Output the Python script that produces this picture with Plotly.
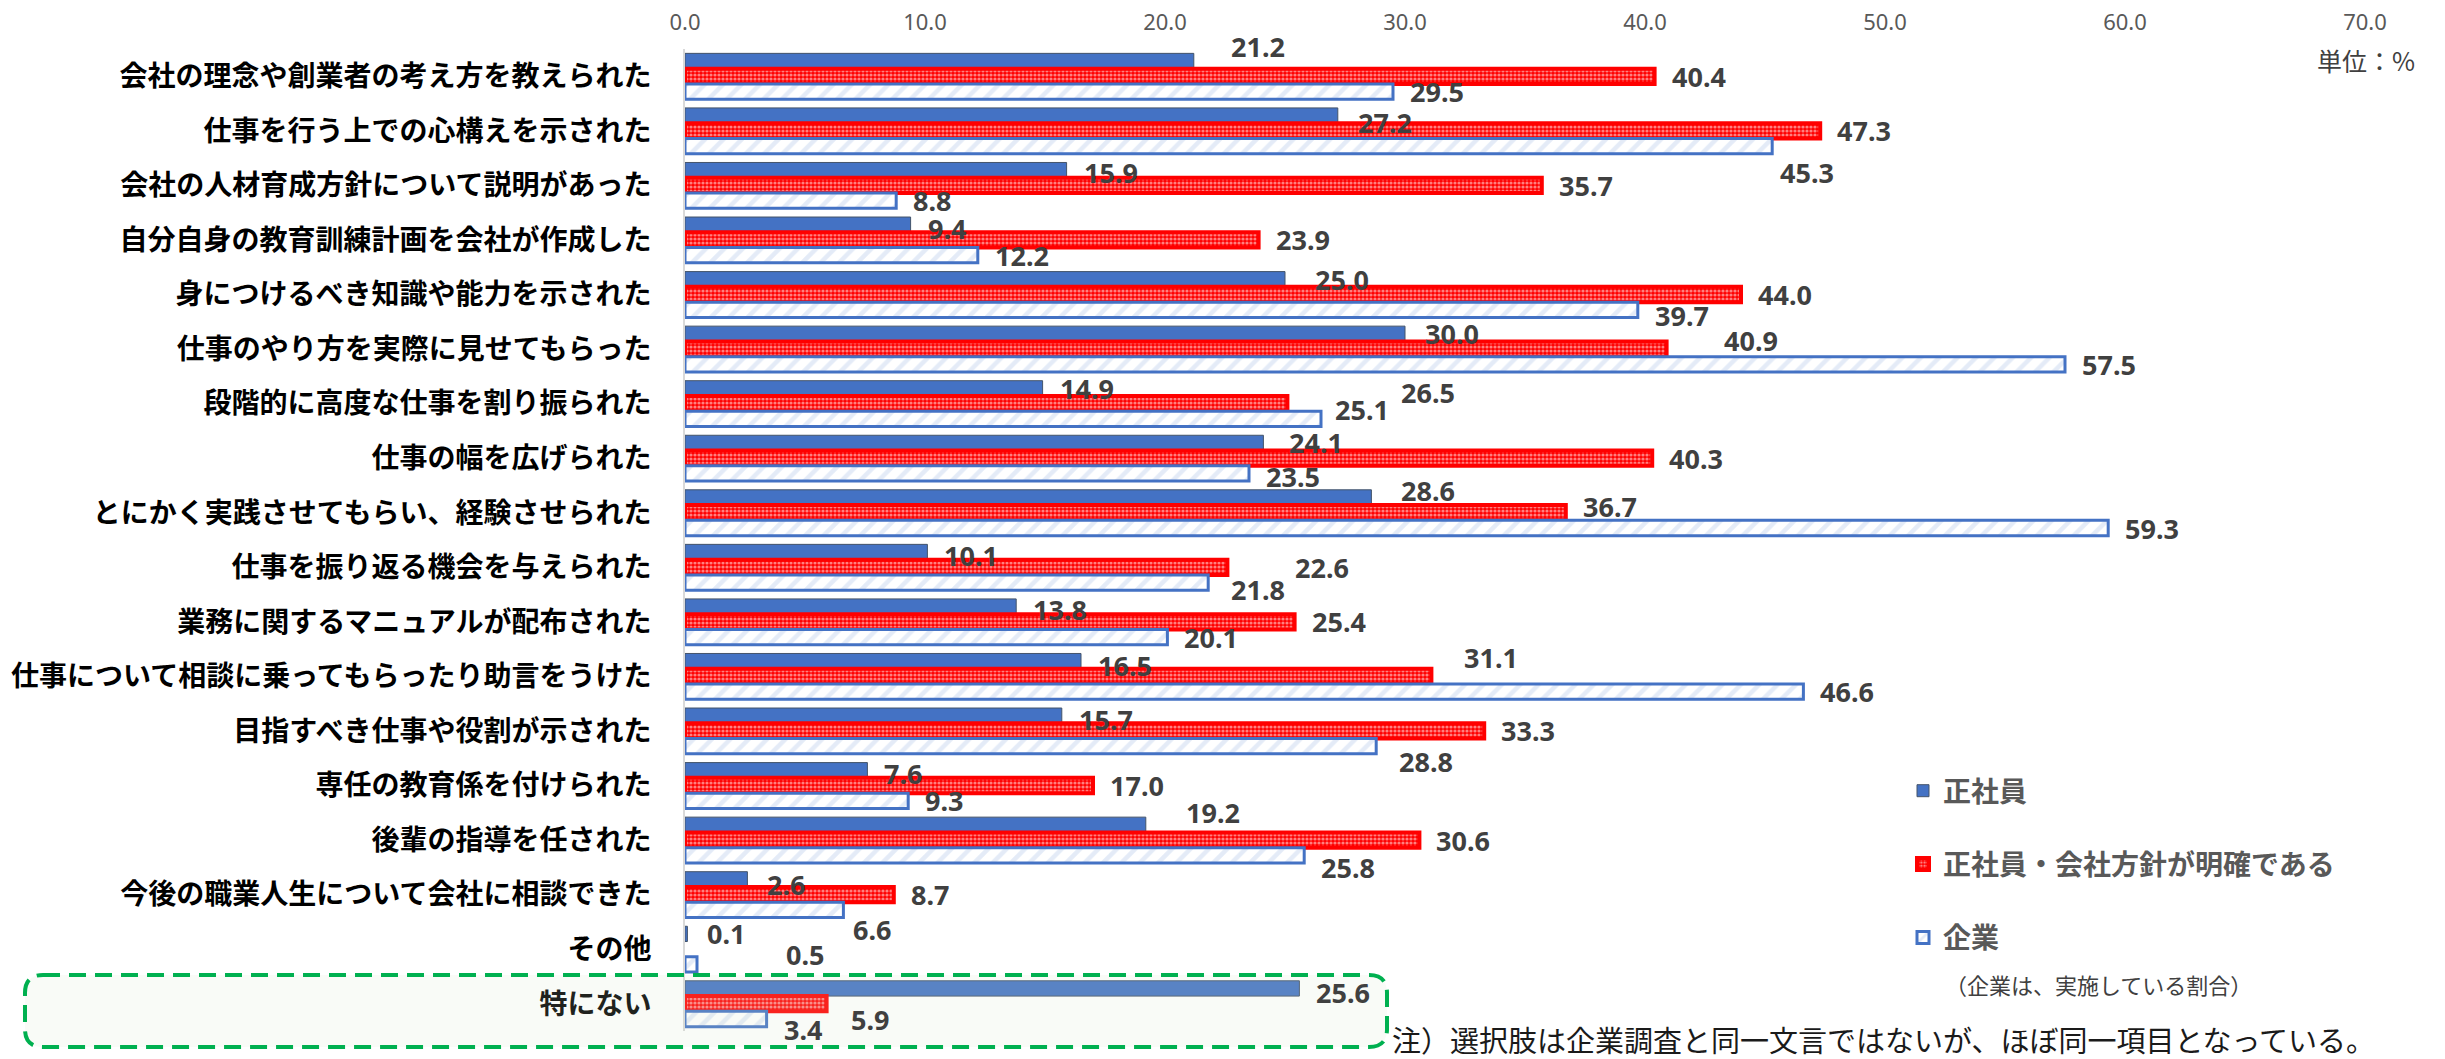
import plotly.graph_objects as go

# Survey items (top to bottom)
categories = [
    "会社の理念や創業者の考え方を教えられた",
    "仕事を行う上での心構えを示された",
    "会社の人材育成方針について説明があった",
    "自分自身の教育訓練計画を会社が作成した",
    "身につけるべき知識や能力を示された",
    "仕事のやり方を実際に見せてもらった",
    "段階的に高度な仕事を割り振られた",
    "仕事の幅を広げられた",
    "とにかく実践させてもらい、経験させられた",
    "仕事を振り返る機会を与えられた",
    "業務に関するマニュアルが配布された",
    "仕事について相談に乗ってもらったり助言をうけた",
    "目指すべき仕事や役割が示された",
    "専任の教育係を付けられた",
    "後輩の指導を任された",
    "今後の職業人生について会社に相談できた",
    "その他",
    "特にない",
]

series_names = ["正社員", "正社員・会社方針が明確である", "企業"]

seishain = [21.2, 27.2, 15.9, 9.4, 25.0, 30.0, 14.9, 24.1, 28.6, 10.1,
            13.8, 16.5, 15.7, 7.6, 19.2, 2.6, 0.1, 25.6]
seishain_houshin = [40.4, 47.3, 35.7, 23.9, 44.0, 40.9, 25.1, 40.3, 36.7, 22.6,
                    25.4, 31.1, 33.3, 17.0, 30.6, 8.7, None, 5.9]
kigyou = [29.5, 45.3, 8.8, 12.2, 39.7, 57.5, 26.5, 23.5, 59.3, 21.8,
          20.1, 46.6, 28.8, 9.3, 25.8, 6.6, 0.5, 3.4]

x_ticks = [0, 10, 20, 30, 40, 50, 60, 70]

# Pixel nudges for individual value labels (right, down)
nudge_blue = [(20, -15), (3, 7), (0, 2), (0, 4), (13, 0), (3, 0), (0, 0), (9, 0), (13, -7),
              (0, 3), (0, 3), (0, 4), (0, 4), (0, 3), (23, -12), (3, 5), (3, 0), (0, 4)]
nudge_red = [(0, 0), (0, 0), (0, 0), (0, 0), (0, 0), (40, -9), (31, 6), (0, 0), (0, -6),
             (51, 0), (0, 0), (16, -19), (0, 0), (0, 0), (0, 0), (0, 0), (0, 0), (7, 16)]
nudge_stripe = [(0, 0), (-9, 26), (0, 0), (0, 0), (0, 6), (0, 0), (63, -26), (0, 3), (0, 0),
                (6, 7), (0, 0), (0, 0), (6, 15), (0, 0), (0, 12), (-7, 20), (72, -10), (0, 10)]

W, H = 2445, 1059
ML, MR, MT, MB = 685, 80, 49, 28
BARGAP = 0.16


def px_x(p):
    return (p - ML) / (W - ML - MR)


def px_y(p):
    return 1 - (p - MT) / (H - MT - MB)


idx = list(range(len(categories)))

fig = go.Figure()
fig.add_trace(go.Bar(
    y=idx, x=seishain, orientation="h", name=series_names[0],
    marker=dict(color="#4472c4", line=dict(color="#44546a", width=1)),
    legendgroup="a",
))
fig.add_trace(go.Bar(
    y=idx, x=seishain_houshin, orientation="h", name=series_names[1],
    marker=dict(color="#ff0000", line=dict(color="#ff0000", width=4),
                pattern=dict(shape=".", fillmode="overlay", bgcolor="#ff0000",
                             fgcolor="#ffffff", size=4, solidity=0.5)),
    legendgroup="b",
))
fig.add_trace(go.Bar(
    y=idx, x=kigyou, orientation="h", name=series_names[2],
    marker=dict(color="#ffffff", line=dict(color="#4472c4", width=3),
                pattern=dict(shape="/", fillmode="overlay", bgcolor="#ffffff",
                             fgcolor="#c9d8f0", size=13, solidity=0.35)),
    legendgroup="c",
))

# Value labels
w = (1 - BARGAP) / 3
annotations = []
for k, (vals, nudges) in enumerate([(seishain, nudge_blue),
                                     (seishain_houshin, nudge_red),
                                     (kigyou, nudge_stripe)]):
    for i, v in enumerate(vals):
        if v is None:
            continue
        dx, dy = nudges[i]
        annotations.append(dict(
            x=v, y=i + (k - 1) * w, xref="x", yref="y",
            text=f"{v:.1f}", showarrow=False, xanchor="left", yanchor="middle",
            xshift=15 + dx, yshift=-dy,
            font=dict(family="Noto Sans, Roboto, sans-serif", size=27,
                      color="#404040", weight="bold"),
        ))

annotations.append(dict(
    x=px_x(2366), y=px_y(60), xref="paper", yref="paper", text="単位：%",
    showarrow=False, xanchor="center", yanchor="middle",
    font=dict(family="Noto Sans CJK JP", size=25, color="#404040"),
))
annotations.append(dict(
    x=px_x(1943), y=px_y(984), xref="paper", yref="paper", text="（企業は、実施している割合）",
    showarrow=False, xanchor="left", yanchor="middle",
    font=dict(family="Noto Sans CJK JP", size=22, color="#404040"),
))
annotations.append(dict(
    x=px_x(1390), y=px_y(1039), xref="paper", yref="paper",
    text="注）選択肢は企業調査と同一文言ではないが、ほぼ同一項目となっている。",
    showarrow=False, xanchor="left", yanchor="middle",
    font=dict(family="Noto Sans CJK JP", size=29, color="#1a1a1a"),
))

# Rounded dashed frame around the last item
bx0, bx1, by0, by1, rr = 25, 1387, 975, 1047, 18


def P(x, y):
    return f"{px_x(x):.5f},{px_y(y):.5f}"


path = (f"M{P(bx0 + rr, by0)} L{P(bx1 - rr, by0)} Q{P(bx1, by0)} {P(bx1, by0 + rr)} "
        f"L{P(bx1, by1 - rr)} Q{P(bx1, by1)} {P(bx1 - rr, by1)} "
        f"L{P(bx0 + rr, by1)} Q{P(bx0, by1)} {P(bx0, by1 - rr)} "
        f"L{P(bx0, by0 + rr)} Q{P(bx0, by0)} {P(bx0 + rr, by0)} Z")

shapes = [dict(type="path", path=path, xref="paper", yref="paper", layer="above",
               fillcolor="rgba(215,230,200,0.15)",
               line=dict(color="#00b050", width=4, dash="17px,9px"))]

fig.update_layout(
    width=W, height=H,
    margin=dict(l=ML, r=MR, t=MT, b=MB, autoexpand=False),
    paper_bgcolor="#ffffff", plot_bgcolor="rgba(0,0,0,0)",
    barmode="group", bargap=BARGAP, bargroupgap=0,
    showlegend=True,
    legend=dict(x=px_x(1903), y=px_y(766), xanchor="left", yanchor="top",
                traceorder="grouped", tracegroupgap=34,
                font=dict(family="Noto Sans CJK JP", size=28, color="#595959",
                          weight="bold"),
                bgcolor="rgba(0,0,0,0)"),
    annotations=annotations,
    shapes=shapes,
    xaxis=dict(side="top", range=[0, 70], tickvals=x_ticks,
               ticktext=[f"{t:.1f}" for t in x_ticks],
               showgrid=False, zeroline=False, showline=False, ticks="",
               ticklabelstandoff=14,
               tickfont=dict(family="Noto Sans, sans-serif", size=22, color="#595959")),
    yaxis=dict(type="linear", range=[len(categories) - 0.5, -0.5],
               tickvals=idx, ticktext=categories,
               showgrid=False, zeroline=False, showline=True, linecolor="#d9d9d9",
               linewidth=2, ticks="", ticklabelstandoff=26,
               tickfont=dict(family="Noto Sans CJK JP", size=28, color="#000000",
                             weight="bold")),
)

fig.write_html("out.html")
